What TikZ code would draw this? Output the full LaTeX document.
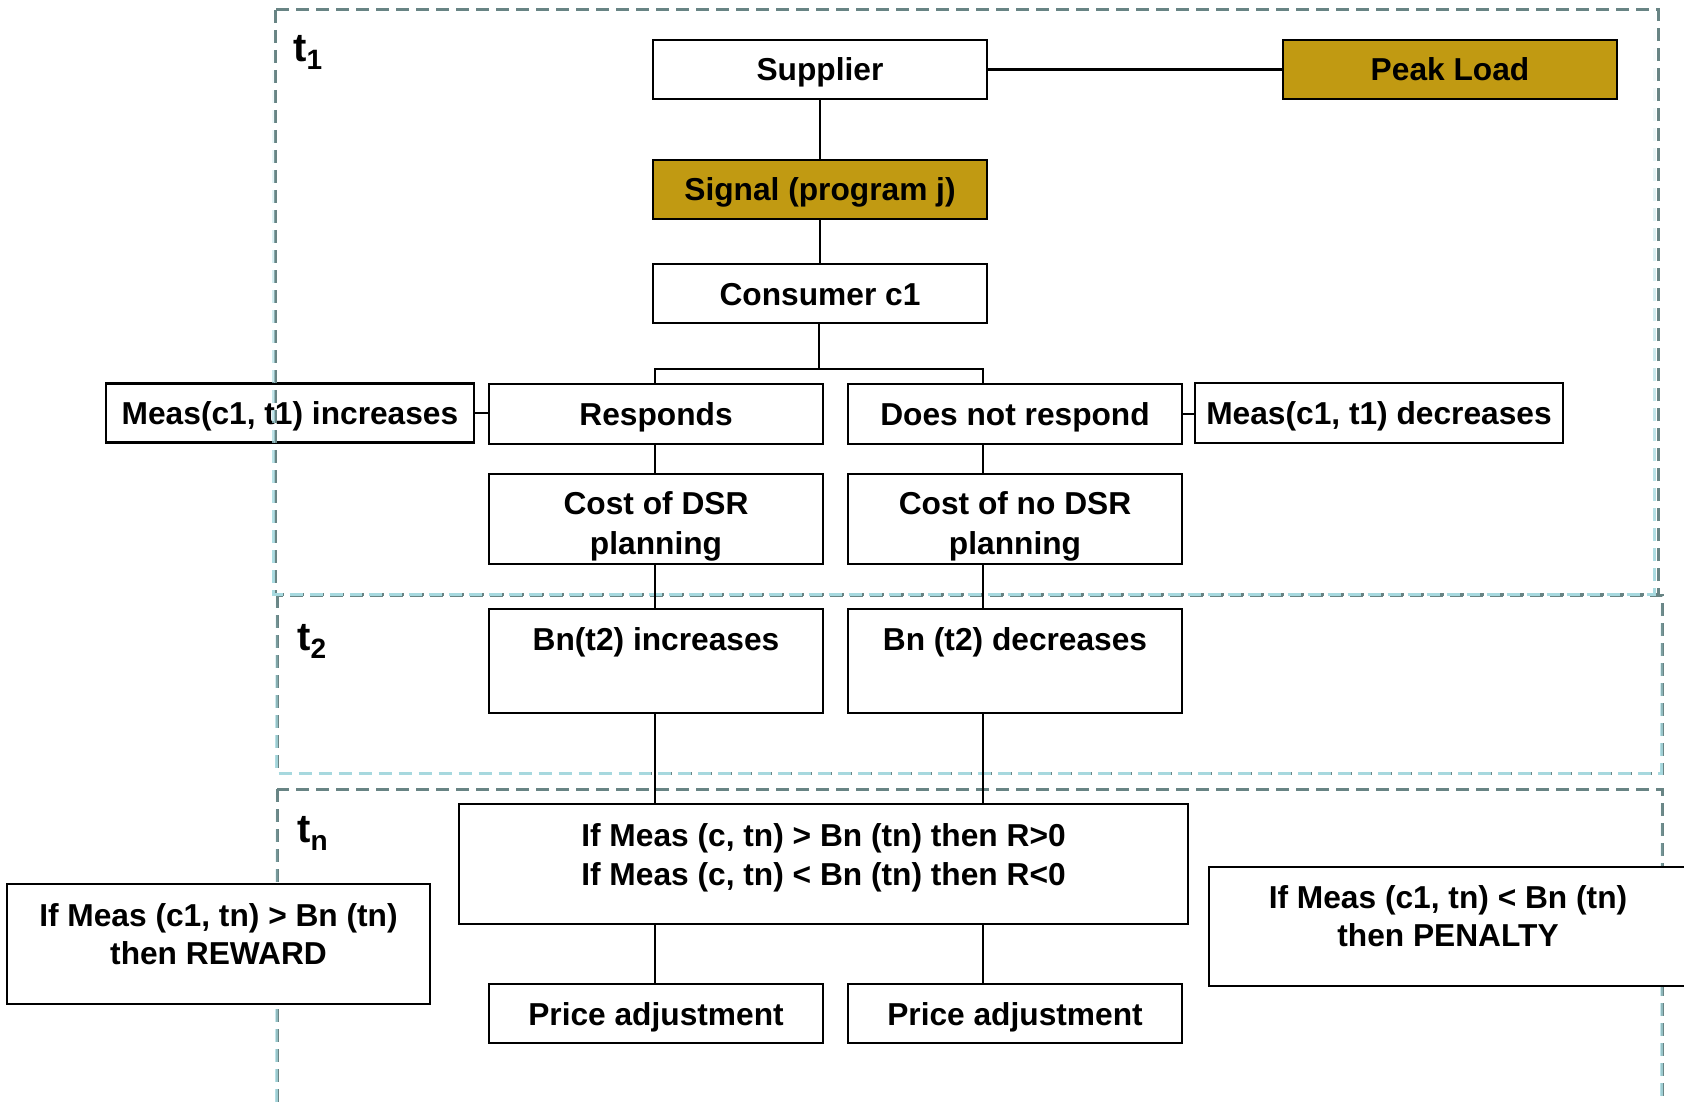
\documentclass[tikz,border=0pt]{standalone}
\usepackage{fontspec}
\setmainfont{Liberation Sans}
\usetikzlibrary{fadings}
\definecolor{gold}{RGB}{193,154,18}
\definecolor{framedark}{RGB}{104,132,132}
\definecolor{framelight}{RGB}{168,218,224}
\tikzfading[name=fadeup, top color=transparent!100, bottom color=transparent!0]
\newcommand{\bigfont}{\bfseries\fontsize{31.7}{38}\selectfont}
\tikzset{
  box/.style={draw=black, line width=2.5pt, rectangle, inner sep=0pt, align=center,
    font=\bigfont, minimum width=334pt, minimum height=59pt},
  oneline/.style={text height=23pt, text depth=0pt},
  txt/.style={align=center, font=\bigfont, inner sep=0pt},
  conn/.style={line width=2.5pt, black},
  frame/.style={line width=3pt, dash pattern=on 13pt off 7pt},
  tlabel/.style={anchor=base west, font=\bfseries\fontsize{40}{40}\selectfont, inner sep=0pt},
}
\begin{document}
\begin{tikzpicture}[x=1pt, y=-1pt]
\useasboundingbox (0,0) rectangle (1684,1102);
% box under the frame
\node[box, oneline, minimum width=368pt] (minc) at (290,413) {Meas(c1, t1) increases};
% frames
\begin{scope}
\clip (0,0) rectangle (1684,1102);
\draw[frame, framedark] (277,789) rectangle (1662,1140);
\draw[frame, framelight, path fading=fadeup] (277,789) rectangle (1662,1140);
\draw[frame, framedark] (277,595) rectangle (1662,773);
\draw[frame, framelight, path fading=fadeup] (277,595) rectangle (1662,773);
\draw[frame, framedark] (275,10) rectangle (1658,594);
\draw[frame, framelight, path fading=fadeup] (275,10) rectangle (1658,594);
\end{scope}
% time labels
\node[tlabel] (t1) at (293,62) {t\raisebox{-0.2em}{\fontsize{28}{28}\selectfont 1}};
\node[tlabel] (t2) at (297,650) {t\raisebox{-0.2em}{\fontsize{28}{28}\selectfont 2}};
\node[tlabel] (tn) at (297,842) {t\raisebox{-0.2em}{\fontsize{28}{28}\selectfont n}};
% nodes
\node[box, oneline] (sup) at (820,69.5) {Supplier};
\node[box, oneline, fill=gold] (peak) at (1450,69.5) {Peak Load};
\node[box, oneline, fill=gold] (sig) at (820,189.5) {Signal (program j)};
\node[box, oneline] (con) at (820,293.5) {Consumer c1};
\node[box, oneline, minimum height=60pt] (resp) at (656,414) {Responds};
\node[box, oneline, minimum height=60pt] (dnr) at (1015,414) {Does not respond};
\node[box, oneline, minimum width=368pt, minimum height=60pt] (mdec) at (1379,413) {Meas(c1, t1) decreases};
\node[box, minimum height=90pt,
  label={[name=cost1t, txt, yshift=-7.5pt]center:{Cost of DSR\\[2pt]planning}}] (cost1) at (656,519) {};
\node[box, minimum height=90pt,
  label={[name=cost2t, txt, yshift=-7.5pt]center:{Cost of no DSR\\[2pt]planning}}] (cost2) at (1015,519) {};
\node[box, minimum height=104pt,
  label={[name=bn1t, txt, yshift=18.8pt]center:{Bn(t2) increases}}] (bn1) at (656,661) {};
\node[box, minimum height=104pt,
  label={[name=bn2t, txt, yshift=18.8pt]center:{Bn (t2) decreases}}] (bn2) at (1015,661) {};
\node[box, minimum width=729pt, minimum height=120pt,
  label={[name=bigift, txt, yshift=6.7pt]center:{If Meas (c, tn) > Bn (tn) then R>0\\[1pt]If Meas (c, tn) < Bn (tn) then R<0}}] (bigif) at (823.5,864) {};
\node[box, fill=white, minimum width=423pt, minimum height=120pt,
  label={[name=rewt, txt, yshift=10pt]center:{If Meas (c1, tn) > Bn (tn)\\then REWARD}}] (rew) at (218.5,944) {};
\node[box, fill=white, minimum width=478pt, minimum height=119pt,
  label={[name=pent, txt, yshift=10.7pt]center:{If Meas (c1, tn) < Bn (tn)\\then PENALTY}}] (pen) at (1448,926.5) {};
\node[box, oneline] (price1) at (656,1013.5) {Price adjustment};
\node[box, oneline] (price2) at (1015,1013.5) {Price adjustment};
% connectors
\coordinate (bar) at (819,369);
\coordinate (colL) at (655,0);
\coordinate (colR) at (983,0);
\draw[conn] (sup) -- (peak);
\draw[conn] (sup) -- (sig);
\draw[conn] (sig) -- (con);
\draw[conn] (con.south -| bar) -- (bar);
\draw[conn] (resp.north -| colL) |- (bar);
\draw[conn] (dnr.north -| colR) |- (bar);
\draw[conn] (minc.east) -- (minc.east -| resp.west);
\draw[conn] (dnr.east) -- (dnr.east -| mdec.west);
\draw[conn] (resp.south -| colL) -- (cost1.north -| colL);
\draw[conn] (cost1.south -| colL) -- (bn1.north -| colL);
\draw[conn] (bn1.south -| colL) -- (bigif.north -| colL);
\draw[conn] (bigif.south -| colL) -- (price1.north -| colL);
\draw[conn] (dnr.south -| colR) -- (cost2.north -| colR);
\draw[conn] (cost2.south -| colR) -- (bn2.north -| colR);
\draw[conn] (bn2.south -| colR) -- (bigif.north -| colR);
\draw[conn] (bigif.south -| colR) -- (price2.north -| colR);
\end{tikzpicture}
\end{document}
